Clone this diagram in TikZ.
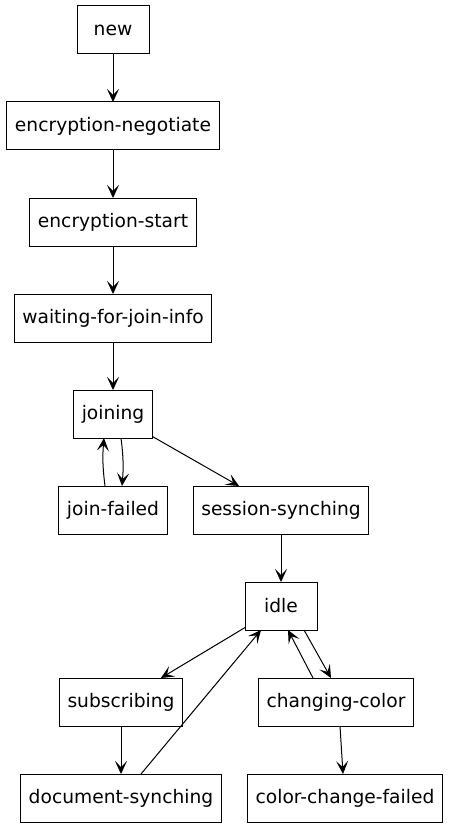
\documentclass[tikz,border=0pt]{standalone}
\usepackage{fontspec}
\setmainfont{DejaVu Sans}
\usetikzlibrary{arrows.meta,positioning}

\begin{document}
\begin{tikzpicture}[
  x=1pt, y=-1pt,
  state/.style={draw, line width=1pt, outer sep=0pt, minimum width=72pt, minimum height=48pt, inner xsep=8pt, font=\fontsize{18.67}{22}\selectfont},
  arr/.style={-{Stealth[length=13pt, width=12pt, inset=6pt]}, line width=1pt}
]
  \useasboundingbox (0,0) rectangle (448,829);

  \node[state] (new) at (113,30) {new};
  \node[state, below=48pt of new] (encneg) {encryption-negotiate};
  \node[state, below=48pt of encneg] (encstart) {encryption-start};
  \node[state, below=48pt of encstart] (waiting) {waiting-for-join-info};
  \node[state, below=48pt of waiting] (joining) {joining};
  \node[state, below=48pt of joining] (joinfailed) {join-failed};
  \node[state] (session) at (281,510) {session-synching};
  \node[state, below=48pt of session] (idle) {idle};
  \node[state] (subscribing) at (121,702) {subscribing};
  \node[state] (changing) at (336,702) {changing-color};
  \node[state, below=48pt of subscribing] (docsync) {document-synching};
  \node[state] (colorfailed) at (345,798) {color-change-failed};

  \draw[arr] (new) -- (encneg);
  \draw[arr] (encneg) -- (encstart);
  \draw[arr] (encstart) -- (waiting);
  \draw[arr] (waiting) -- (joining);
  \draw[arr] ([xshift=8pt]joining.south) to[bend left=6] ([xshift=9pt]joinfailed.north);
  \draw[arr] ([xshift=-8pt]joinfailed.north) to[bend left=6] ([xshift=-9pt]joining.south);
  \draw[arr] (joining) -- (session);
  \draw[arr] (session) -- (idle);
  \draw[arr] (idle) -- (subscribing);
  \draw[arr] ([xshift=23pt]idle.south) -- ([xshift=-5pt]changing.north);
  \draw[arr] ([xshift=-23pt]changing.north) -- ([xshift=7pt]idle.south);
  \draw[arr] (subscribing) -- (docsync);
  \draw[arr] (docsync) -- (idle);
  \draw[arr] ([xshift=4pt]changing.south) -- ([xshift=-2pt]colorfailed.north);
\end{tikzpicture}
\end{document}
